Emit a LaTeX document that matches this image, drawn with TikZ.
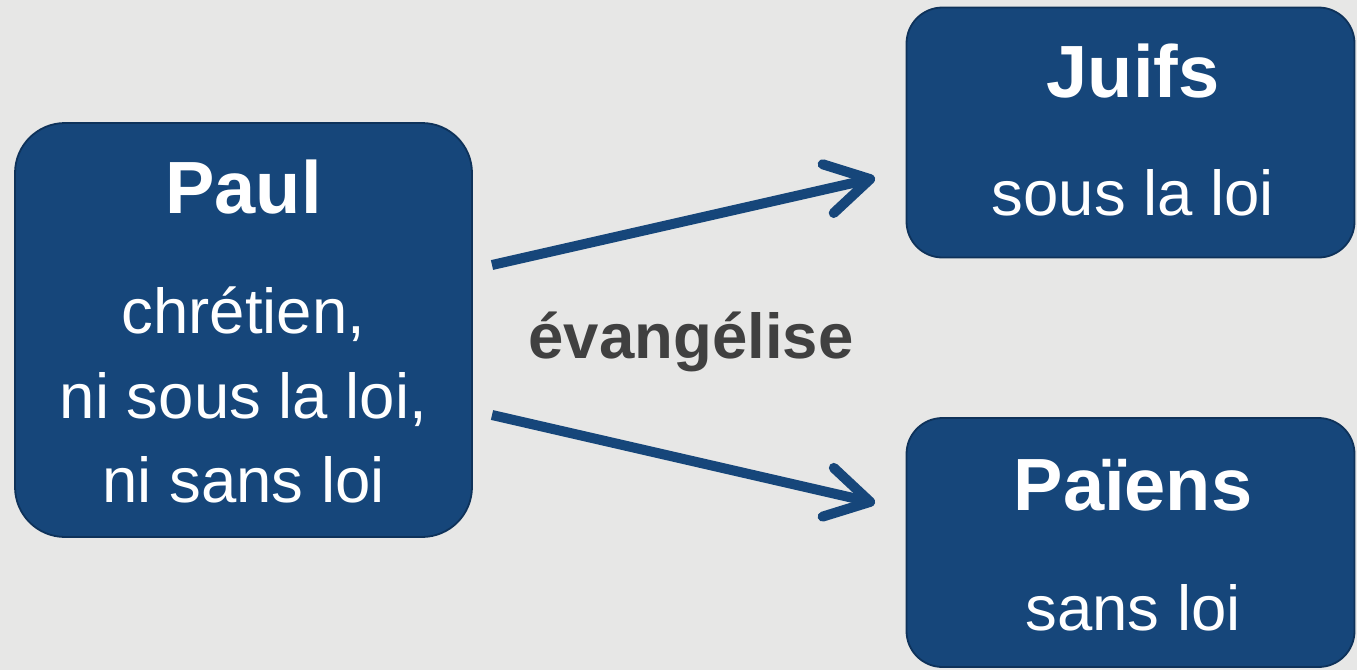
\documentclass[tikz,border=0pt]{standalone}
\usepackage{fontspec}
\setmainfont{Liberation Sans}
\usetikzlibrary{arrows.meta}
\definecolor{bg}{RGB}{231,231,230}
\definecolor{boxfill}{RGB}{22,70,122}
\definecolor{boxline}{RGB}{14,50,90}
\definecolor{labelgray}{RGB}{64,64,64}
\tikzset{
  boxstyle/.style={draw=boxline, line width=1.8pt, fill=boxfill, inner sep=0pt, outer sep=0pt},
  titletext/.style={text=white, font=\fontsize{74}{80}\selectfont\bfseries, anchor=base, inner sep=0pt},
  bodytext/.style={text=white, font=\fontsize{63.5}{70}\selectfont, anchor=base, inner sep=0pt},
  arrowstyle/.style={draw=boxfill, line width=10pt, -{Straight Barb[length=43pt, width=50pt, round]}},
}
\begin{document}
\begin{tikzpicture}[x=1pt, y=-1pt]
\fill[bg] (0,0) rectangle (1357,670);
\useasboundingbox (0,0) rectangle (1357,670);
% boxes
\node[boxstyle, rounded corners=50pt, minimum width=457pt, minimum height=414pt] (paul) at (243.5,330) {};
\node[boxstyle, rounded corners=36pt, minimum width=448pt, minimum height=250pt] (juifs) at (1130.5,132.5) {};
\node[boxstyle, rounded corners=36pt, minimum width=448pt, minimum height=249pt] (paiens) at (1130.5,542.5) {};
% texts
\node[titletext] (tpaul) at (243.5,213) {Paul};
\node[bodytext] (l1) at (243.5,333) {chrétien,};
\node[bodytext] (l2) at (243.5,418) {ni sous la loi,};
\node[bodytext] (l3) at (243.5,502) {ni sans loi};
\node[titletext] (tjuifs) at (1133,97) {Juifs};
\node[bodytext] (ljuifs) at (1133,215) {sous la loi};
\node[titletext] (tpaiens) at (1133,510) {Païens};
\node[bodytext] (lpaiens) at (1133,630) {sans loi};
\node[text=labelgray, font=\fontsize{63.5}{70}\selectfont\bfseries, anchor=base, inner sep=0pt] (evang) at (691,358) {évangélise};
% connector ends
\coordinate (s1) at (492,265);
\coordinate (e1) at (875,178);
\coordinate (s2) at (492,415);
\coordinate (e2) at (875,503);
\draw[arrowstyle] (s1) -- (e1);
\draw[arrowstyle] (s2) -- (e2);
\end{tikzpicture}
\end{document}
